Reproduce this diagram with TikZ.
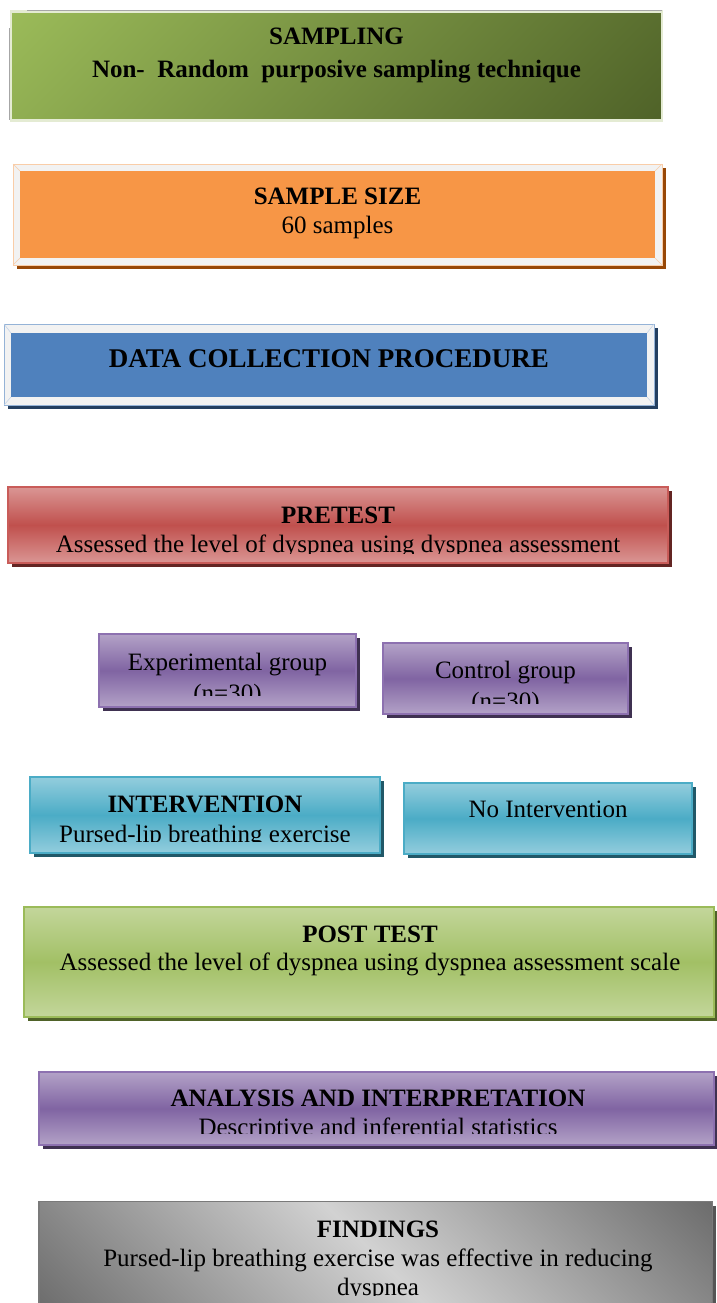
\documentclass[tikz,border=0pt]{standalone}
\usepackage{fontspec}
\setmainfont{Liberation Serif}
\usetikzlibrary{shadings,shadows}

% palette
\definecolor{olivelt}{HTML}{9BBB59}
\definecolor{olivedk}{HTML}{4F6228}
\definecolor{olivefr}{HTML}{E4EBD3}
\definecolor{bevel}{HTML}{F2F2F2}
\definecolor{orangefill}{HTML}{F79646}
\definecolor{orangeedge}{HTML}{F9CDA8}
\definecolor{orangeshadow}{HTML}{984807}
\definecolor{bluefill}{HTML}{4F81BD}
\definecolor{blueedge}{HTML}{95B3D7}
\definecolor{blueshadow}{HTML}{243F60}
\definecolor{redlt}{HTML}{DA9694}
\definecolor{redmid}{HTML}{C0504D}
\definecolor{rededge}{HTML}{C95C59}
\definecolor{redshadow}{HTML}{632523}
\definecolor{purplelt}{HTML}{B3A2C7}
\definecolor{purplemid}{HTML}{8064A2}
\definecolor{purpleedge}{HTML}{8D71B0}
\definecolor{purpleshadow}{HTML}{3F3151}
\definecolor{teallt}{HTML}{93CDDD}
\definecolor{tealmid}{HTML}{4BACC6}
\definecolor{tealedge}{HTML}{4BACC6}
\definecolor{tealshadow}{HTML}{215868}
\definecolor{limelt}{HTML}{C3D69B}
\definecolor{limemid}{HTML}{A2C065}
\definecolor{limeedge}{HTML}{9BBB59}
\definecolor{limeshadow}{HTML}{4F6228}
\definecolor{greydk}{HTML}{6C6C6C}
\definecolor{greylt}{HTML}{D2D2D2}
\definecolor{greyedge}{HTML}{7A7A7A}
\definecolor{greyshadow}{HTML}{555555}

\begin{document}
\begin{tikzpicture}[x=1pt,y=-1pt,
  panel/.style={rectangle, inner sep=0pt, outer sep=0pt},
  drop/.style={general shadow={fill=#1, shadow xshift=3.5pt, shadow yshift=-3.5pt}},
  glossy/.style n args={4}{panel, top color=#1, bottom color=#1, middle color=#2,
    draw=#3, line width=1.5pt, drop=#4},
  lbl/.style={anchor=base, inner sep=0pt, outer sep=0pt, font=\fontsize{25}{30}\selectfont},
  head/.style={lbl, font=\fontsize{25}{30}\selectfont\bfseries},
]
\useasboundingbox (0,0) rectangle (716,1303);

% ---- sampling: diagonal olive gradient
\node[panel, minimum width=651pt, minimum height=109pt,
      upper left=olivelt, upper right=olivedk!86!olivelt,
      lower left=olivedk!14!olivelt, lower right=olivedk,
      draw=olivefr, line width=2.5pt] (samp) at (336.5,66) {};
\draw[black!35, line width=0.6pt] ([xshift=16pt,yshift=1.5pt]samp.north west) -- ([yshift=1.5pt]samp.north east);
\draw[black!35, line width=0.6pt] ([xshift=-1.5pt,yshift=-17pt]samp.north west) -- ([xshift=-1.5pt]samp.south west);
\node[head] (sampT) at (336.5,45) {SAMPLING};
\node[head] (sampS) at (336.5,78) {Non-\ \ Random\ \ purposive sampling technique};

% ---- sample size: bevelled orange panel
\node[panel, minimum width=649pt, minimum height=101pt, fill=bevel,
      draw=orangeedge, line width=0.6pt, drop=orangeshadow] (size) at (337.5,214.5) {};
\node[panel, minimum width=635pt, minimum height=87pt, fill=orangefill] (sizein) at (337.5,214.5) {};
\foreach \c in {north west,north east,south west,south east}
  \draw[orangeedge, line width=0.5pt] (size.\c) -- (sizein.\c);
\node[head] (sizeT) at (337.5,204) {SAMPLE SIZE};
\node[lbl] (sizeS) at (337.5,233) {60 samples};

% ---- data collection: bevelled blue panel
\node[panel, minimum width=650pt, minimum height=81pt, fill=bevel,
      draw=blueedge, line width=0.8pt, drop=blueshadow] (dcp) at (329,364.5) {};
\node[panel, minimum width=636pt, minimum height=64pt, fill=bluefill] (dcpin) at (329,365) {};
\foreach \c in {north west,north east,south west,south east}
  \draw[blueedge!60, line width=0.5pt] (dcp.\c) -- (dcpin.\c);
\node[head, font=\fontsize{27}{32}\selectfont\bfseries] (dcpT) at (329,367) {DATA COLLECTION PROCEDURE};

% ---- pretest
\node[glossy={redlt}{redmid}{rededge}{redshadow}, minimum width=660pt, minimum height=76pt] (pre) at (338,525) {};
\node[head] (preT) at (338,523) {PRETEST};
\begin{scope}
  \clip (8,487) rectangle (668,553);
  \node[lbl] (preS) at (338,552) {Assessed the level of dyspnea using dyspnea assessment};
\end{scope}

% ---- groups
\node[glossy={purplelt}{purplemid}{purpleedge}{purpleshadow}, minimum width=257pt, minimum height=73pt] (exp) at (227.5,670.5) {};
\node[lbl] (expT) at (227.5,670) {Experimental group};
\begin{scope}
  \clip (99,634) rectangle (356,695);
  \node[lbl] (expS) at (227.5,701) {(n=30)};
\end{scope}

\node[glossy={purplelt}{purplemid}{purpleedge}{purpleshadow}, minimum width=245pt, minimum height=71pt] (ctl) at (505.5,678.5) {};
\node[lbl] (ctlT) at (505.5,678) {Control group};
\begin{scope}
  \clip (383,643) rectangle (628,703);
  \node[lbl] (ctlS) at (505.5,709) {(n=30)};
\end{scope}

% ---- interventions
\node[glossy={teallt}{tealmid}{tealedge}{tealshadow}, minimum width=350pt, minimum height=76pt] (intv) at (205,815) {};
\node[head] (intvT) at (205,812) {INTERVENTION};
\begin{scope}
  \clip (30,777) rectangle (380,841);
  \node[lbl] (intvS) at (205,842) {Pursed-lip breathing exercise};
\end{scope}

\node[glossy={teallt}{tealmid}{tealedge}{tealshadow}, minimum width=288pt, minimum height=71pt] (noint) at (548,818.5) {};
\node[lbl] (nointT) at (548,817) {No Intervention};

% ---- post test
\node[glossy={limelt}{limemid}{limeedge}{limeshadow}, minimum width=690pt, minimum height=110pt] (post) at (369,962) {};
\node[head] (postT) at (370,942) {POST TEST};
\node[lbl] (postS) at (370,970) {Assessed the level of dyspnea using dyspnea assessment scale};

% ---- analysis
\node[glossy={purplelt}{purplemid}{purpleedge}{purpleshadow}, minimum width=675pt, minimum height=73pt] (ana) at (376.5,1108.5) {};
\node[head] (anaT) at (378,1106) {ANALYSIS AND INTERPRETATION};
\begin{scope}
  \clip (39,1072) rectangle (714,1133);
  \node[lbl] (anaS) at (378,1135) {Descriptive and inferential statistics};
\end{scope}

% ---- findings: diagonal silver gradient
\node[panel, minimum width=673pt, minimum height=106pt, fill=greydk,
      draw=greyedge, line width=1.5pt, drop=greyshadow] (find) at (375.5,1255) {};
\begin{scope}
  \clip (39.75,1202.75) rectangle (711.25,1308);
  \shade[transform canvas={shift={(375.5,1255)}, rotate=45},
         left color=greydk, right color=greydk, middle color=greylt]
    (-276,-276) rectangle (276,276);
\end{scope}
\node[head] (findT) at (378,1237) {FINDINGS};
\node[lbl] (findS) at (378,1266) {Pursed-lip breathing exercise was effective in reducing};
\begin{scope}
  \clip (39,1202) rectangle (712,1295);
  \node[lbl] (findU) at (378,1295.5) {dyspnea};
\end{scope}
\end{tikzpicture}
\end{document}
